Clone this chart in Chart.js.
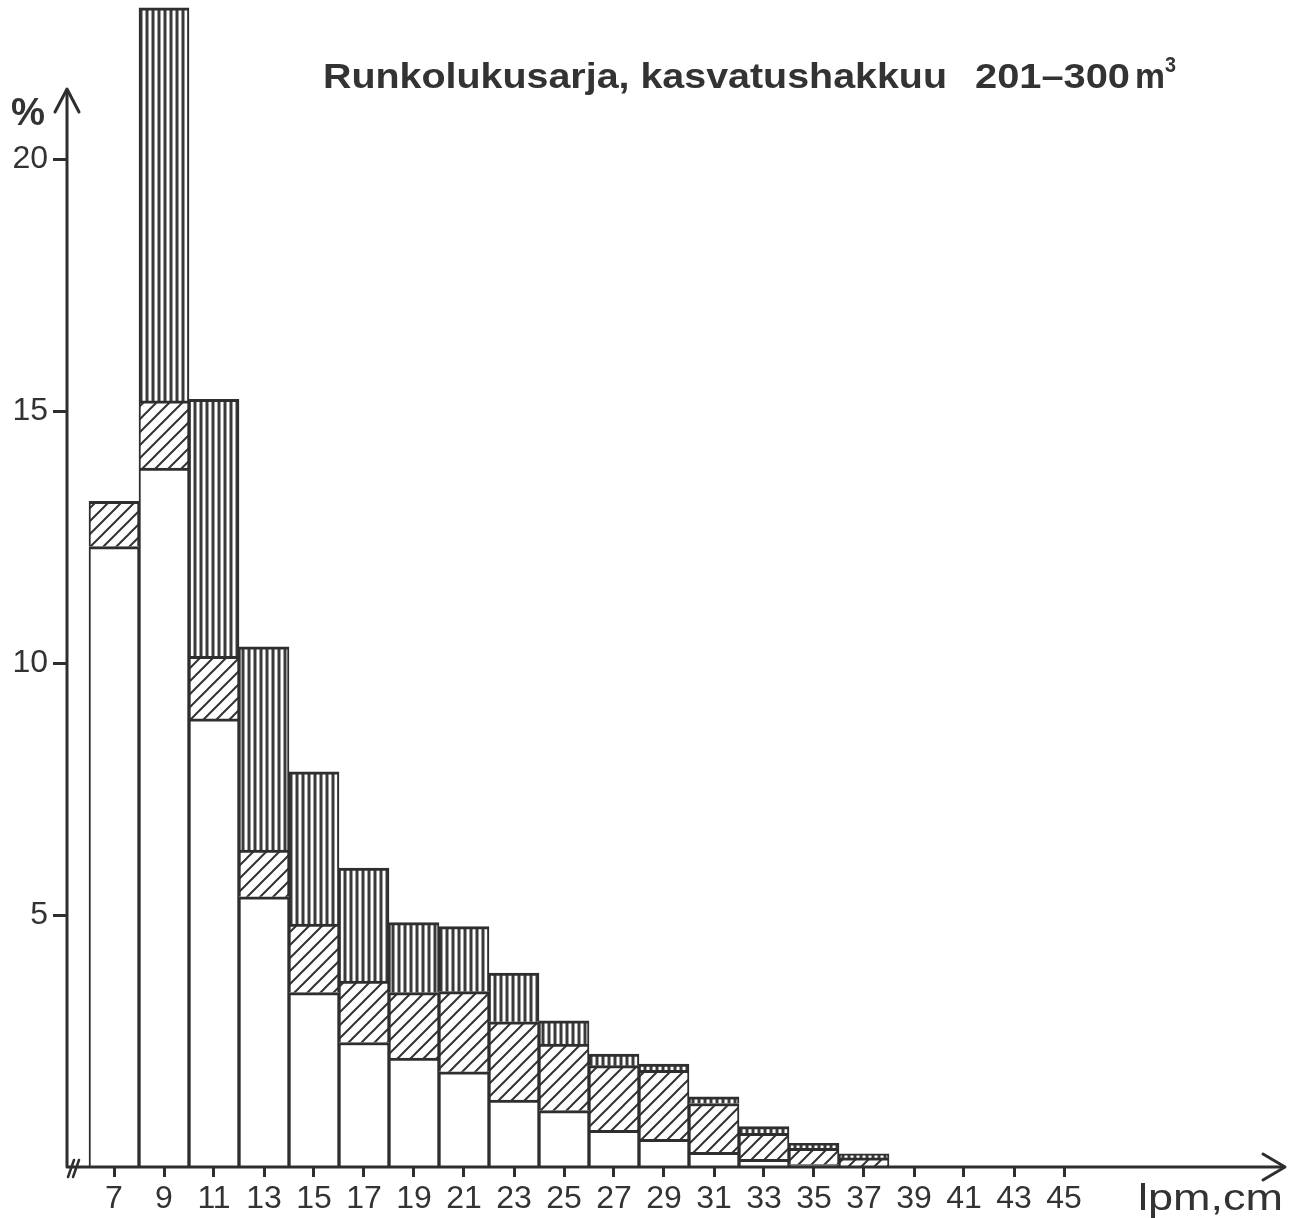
<!DOCTYPE html>
<html><head><meta charset="utf-8">
<script src="https://cdn.jsdelivr.net/npm/chart.js@4.4.0/dist/chart.umd.min.js"></script>
<style>html,body{margin:0;padding:0;background:#fff;}canvas{display:block;}</style>
</head><body>
<canvas id="c" width="1301" height="1218"></canvas>
<script>
// ---- data ----
const diameterClasses = [7, 9, 11, 13, 15, 17, 19, 21, 23, 25, 27, 29, 31, 33, 35, 37, 39, 41, 43, 45];
const whiteShare    = [12.31, 13.87, 8.89, 5.36, 3.46, 2.47, 2.16, 1.89, 1.33, 1.12, 0.73, 0.55, 0.29, 0.15, 0.05, 0, 0, 0, 0, 0];
const obliqueShare  = [0.90, 1.33, 1.24, 0.93, 1.36, 1.22, 1.30, 1.59, 1.55, 1.32, 1.28, 1.37, 0.97, 0.52, 0.32, 0.18, 0, 0, 0, 0];
const verticalShare = [0, 7.80, 5.10, 4.03, 3.02, 2.24, 1.39, 1.29, 0.97, 0.46, 0.23, 0.12, 0.13, 0.13, 0.10, 0.08, 0, 0, 0, 0];
const yTickValues = [5, 10, 15, 20];
const xTickValues = diameterClasses;
const titleMain = 'Runkolukusarja, kasvatushakkuu';
const titleRange = '201–300';
const titleUnit = 'm';
const titleSup = '3';
const yAxisLabel = '%';
const xAxisLabel = 'lpm,cm';

const INK = '#2e2e2e';
const TXT = '#333333';

function makePattern(kind) {
  const c = document.createElement('canvas');
  const x = c.getContext('2d');
  if (kind === 'oblique') {
    const s = 13;
    c.width = s; c.height = s;
    x.fillStyle = '#fff'; x.fillRect(0, 0, s, s);
    x.strokeStyle = '#333'; x.lineWidth = 2;
    x.beginPath();
    x.moveTo(-2, s + 2); x.lineTo(s + 2, -2);
    x.moveTo(-2, 2); x.lineTo(2, -2);
    x.moveTo(s - 2, s + 2); x.lineTo(s + 2, s - 2);
    x.stroke();
  } else {
    c.width = 6; c.height = 6;
    x.fillStyle = '#fff'; x.fillRect(0, 0, 6, 6);
    x.fillStyle = '#3a3a3a'; x.fillRect(1.5, 0, 3, 6);
  }
  return x.createPattern(c, 'repeat');
}

function fitText(ctx, text, x, y, font, width) {
  ctx.save();
  ctx.font = font;
  const w = ctx.measureText(text).width;
  ctx.translate(x, y);
  ctx.scale(width / w, 1);
  ctx.fillText(text, 0, 0);
  ctx.restore();
}

const decorPlugin = {
  id: 'decor',
  afterDraw(chart) {
    const ctx = chart.ctx;
    const a = chart.chartArea;
    const L = a.left, B = a.bottom, R = a.right;
    ctx.save();
    ctx.strokeStyle = INK;
    ctx.lineWidth = 3;
    ctx.lineCap = 'round';
    ctx.lineJoin = 'round';
    ctx.beginPath();
    ctx.moveTo(L, 90); ctx.lineTo(L, B); ctx.lineTo(R - 1, B);
    ctx.stroke();
    ctx.beginPath();
    ctx.moveTo(L - 12, 112); ctx.lineTo(L, 89); ctx.lineTo(L + 12, 112);
    ctx.stroke();
    ctx.beginPath();
    ctx.moveTo(R - 22, B - 13); ctx.lineTo(R, B); ctx.lineTo(R - 22, B + 13);
    ctx.stroke();
    ctx.lineWidth = 2.5;
    ctx.beginPath();
    ctx.moveTo(L + 1, B + 10); ctx.lineTo(L + 7, B - 7);
    ctx.moveTo(L + 6, B + 10); ctx.lineTo(L + 12, B - 7);
    ctx.stroke();
    ctx.fillStyle = TXT;
    ctx.textBaseline = 'alphabetic';
    ctx.textAlign = 'left';
    fitText(ctx, titleMain, 323, 88, 'bold 35px "Liberation Sans", Arial, sans-serif', 624);
    fitText(ctx, titleRange, 975, 88, 'bold 35px "Liberation Sans", Arial, sans-serif', 155);
    fitText(ctx, titleUnit, 1135, 88, 'bold 35px "Liberation Sans", Arial, sans-serif', 30);
    fitText(ctx, titleSup, 1165, 72, 'bold 22px "Liberation Sans", Arial, sans-serif', 11);
    fitText(ctx, yAxisLabel, 11, 125, 'bold 38px "Liberation Sans", Arial, sans-serif', 34);
    fitText(ctx, xAxisLabel, 1138, 1210, '36px "Liberation Sans", Arial, sans-serif', 145);
    ctx.restore();
  }
};

const mk = (vals) => diameterClasses.map((d, i) => ({ x: d, y: vals[i] }));
const common = {
  borderColor: INK,
  borderWidth: { top: 3, left: 2, right: 2, bottom: 0 },
  borderSkipped: 'start',
  barPercentage: 1,
  categoryPercentage: 1
};

new Chart(document.getElementById('c'), {
  type: 'bar',
  data: {
    datasets: [
      Object.assign({ label: 'a', data: mk(whiteShare), backgroundColor: '#ffffff' }, common),
      Object.assign({ label: 'b', data: mk(obliqueShare), backgroundColor: makePattern('oblique') }, common),
      Object.assign({ label: 'c', data: mk(verticalShare), backgroundColor: makePattern('vertical') }, common)
    ]
  },
  options: {
    responsive: false,
    animation: false,
    devicePixelRatio: 1,
    layout: { padding: { left: 0, right: 16, top: 0, bottom: 0 } },
    plugins: { legend: { display: false }, tooltip: { enabled: false }, title: { display: false } },
    scales: {
      x: {
        type: 'linear',
        stacked: true,
        offset: false,
        min: 5.12,
        max: 53.84,
        afterFit: (s) => { s.height = 51; s.paddingLeft = 0; s.paddingRight = 0; },
        afterBuildTicks: (s) => { s.ticks = xTickValues.map(v => ({ value: v })); },
        grid: { display: true, offset: false, drawOnChartArea: false, drawTicks: true, tickLength: 10, tickWidth: 3, tickColor: INK },
        border: { display: false },
        ticks: {
          autoSkip: false, maxRotation: 0, padding: 3,
          color: TXT,
          font: { family: '"Liberation Sans", Arial, sans-serif', size: 32 },
          callback: (v) => String(v)
        }
      },
      y: {
        stacked: true,
        min: 0,
        max: 23.155,
        afterFit: (s) => { s.width = 67; s.paddingTop = 0; s.paddingBottom = 0; },
        afterBuildTicks: (s) => { s.ticks = yTickValues.map(v => ({ value: v })); },
        grid: { display: true, drawOnChartArea: false, drawTicks: true, tickLength: 14, tickWidth: 3, tickColor: INK },
        border: { display: false },
        ticks: {
          padding: 5,
          color: TXT,
          font: { family: '"Liberation Sans", Arial, sans-serif', size: 32 },
          callback: (v) => String(v)
        }
      }
    }
  },
  plugins: [decorPlugin]
});
</script>
</body></html>
